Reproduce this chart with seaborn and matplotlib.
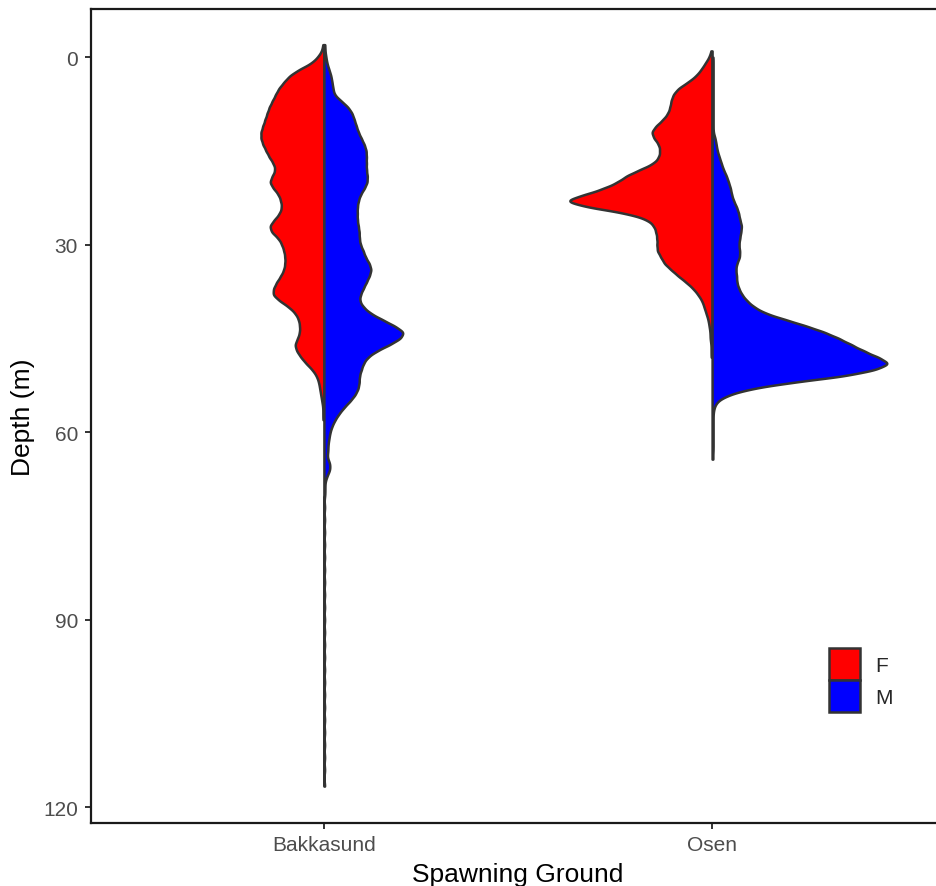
import numpy as np
import pandas as pd
import matplotlib
matplotlib.use("Agg")
import matplotlib.pyplot as plt
import seaborn as sns
from matplotlib.patches import Patch

# ---------------- data ----------------
sites = ["Bakkasund", "Osen"]
sexes = ["F", "M"]
sex_colors = {"F": "#FF0000", "M": "#0000FF"}
y_ticks = [0, 30, 60, 90, 120]

# counts of observations in 1-m depth bins, starting at the given depth
bakkasund_F_start = -2
bakkasund_F_counts = [1, 2, 6, 12, 24, 33, 38, 43, 46, 49, 52, 54, 56, 58, 60, 60, 58, 55,
                      52, 48, 46, 49, 52, 48, 43, 41, 40, 42, 47, 52, 50, 43, 40, 38, 37, 37,
                      38, 41, 45, 48, 49, 42, 33, 27, 24, 23, 23, 25, 28, 26, 22, 17, 11, 7,
                      5, 4, 3, 2, 1, 1, 1]
bakkasund_F_tail = []

bakkasund_M_start = -2
bakkasund_M_counts = [1, 1, 2, 3, 5, 7, 8, 9, 10, 17, 24, 28, 30, 32, 34, 37, 40, 42, 42,
                      42, 42, 43, 43, 40, 36, 34, 33, 33, 33, 34, 35, 35, 36, 39, 41, 45, 47,
                      45, 42, 39, 36, 35, 39, 46, 58, 70, 80, 76, 65, 52, 43, 39, 37, 35, 35,
                      34, 31, 26, 20, 15, 11, 8, 6, 5, 4, 4, 3, 6, 6, 3, 1, 1, 1]
bakkasund_M_tail = [72, 74, 76, 78, 80, 82, 84, 86, 88, 90, 92, 94, 96, 98, 100, 102,
                    104, 106, 108, 110, 112, 114, 116.6]

osen_F_start = -1
osen_F_counts = [1, 3, 7, 11, 16, 24, 34, 39, 41, 42, 44, 49, 56, 61, 58, 53, 52, 53, 58, 72,
                 86, 94, 108, 127, 150, 124, 84, 64, 58, 56, 55, 55, 55, 51, 48, 41, 34, 26,
                 19, 14, 10, 8, 6, 4, 3, 2, 2, 1, 1, 1]
osen_F_tail = []

osen_M_start = 0
osen_M_counts = [1, 1, 1, 1, 1, 1, 1, 1, 1, 1, 1, 1, 1, 3, 4, 5, 7, 9, 11, 14, 16, 18, 19, 21,
                 24, 26, 27, 29, 28, 27, 26, 27, 27, 24, 23, 24, 24, 26, 29, 34, 41, 52, 72,
                 92, 110, 124, 136, 148, 162, 175, 160, 130, 78, 38, 16, 5, 2]
osen_M_tail = [57, 58, 59, 60, 61, 62, 63, 64.3]


def expand(start, counts, tail):
    depths = np.arange(start, start + len(counts), dtype=float)
    return np.concatenate([np.repeat(depths, counts), np.asarray(tail, dtype=float)])


groups = [
    ("Bakkasund", "F", bakkasund_F_start, bakkasund_F_counts, bakkasund_F_tail),
    ("Bakkasund", "M", bakkasund_M_start, bakkasund_M_counts, bakkasund_M_tail),
    ("Osen", "F", osen_F_start, osen_F_counts, osen_F_tail),
    ("Osen", "M", osen_M_start, osen_M_counts, osen_M_tail),
]
df = pd.concat(
    [pd.DataFrame({"site": s, "sex": x, "depth": expand(st, c, t)}) for s, x, st, c, t in groups],
    ignore_index=True,
)

# ---------------- plot ----------------
sns.set_style("ticks")
plt.rcParams["font.family"] = ["Liberation Sans", "DejaVu Sans"]
plt.rcParams.update({
    "xtick.bottom": True, "ytick.left": True,
    "xtick.direction": "out", "ytick.direction": "out",
    "xtick.major.size": 4.3, "ytick.major.size": 4.3,
    "xtick.major.width": 1.4, "ytick.major.width": 1.4,
    "xtick.color": "#333333", "ytick.color": "#333333",
})

BW = 0.6  # kernel bandwidth in metres
fig = plt.figure(figsize=(9.36, 8.87), dpi=100)
ax = fig.add_axes([91 / 936, 63 / 887, 854 / 936, 814 / 887])

sns.violinplot(
    data=df, x="site", y="depth", hue="sex",
    order=sites, hue_order=sexes, palette=sex_colors,
    split=True, inner=None, cut=0, density_norm="area", common_norm=True,
    width=0.9, gridsize=1200, bw_method=lambda k: BW / np.std(k.dataset),
    linecolor="#333333", linewidth=1.8, saturation=1, legend=False, ax=ax,
)

ax.set_xlim(-0.6, 1.6)
ax.set_ylim(122.5, -7.7)
ax.set_yticks(y_ticks)
ax.set_yticklabels([str(v) for v in y_ticks])

for side in ["left", "bottom", "top", "right"]:
    ax.spines[side].set_visible(True)
    ax.spines[side].set_color("#1a1a1a")
    ax.spines[side].set_linewidth(1.6)

ax.tick_params(axis="both", which="major", direction="out", length=4.3, width=1.4,
               color="#333333", labelsize=15, labelcolor="#4D4D4D",
               left=True, bottom=True)
ax.tick_params(axis="y", pad=5.0)
ax.tick_params(axis="x", pad=4.0)
ax.set_xlabel("Spawning Ground", fontsize=19, color="black", labelpad=6)
ax.set_ylabel("Depth (m)", fontsize=19, color="black", labelpad=6)

handles = [Patch(facecolor=sex_colors[s], edgecolor="#333333", linewidth=1.8, label=s)
           for s in sexes]
fig.legend(handles=handles, loc="upper left", bbox_to_anchor=(829 / 936, 1 - 649 / 887),
           bbox_transform=fig.transFigure, frameon=False, borderpad=0, borderaxespad=0,
           handlelength=1.5, handleheight=2.0, handletextpad=0.7, labelspacing=0.0,
           fontsize=15)

fig.savefig("out.png", dpi=100)
